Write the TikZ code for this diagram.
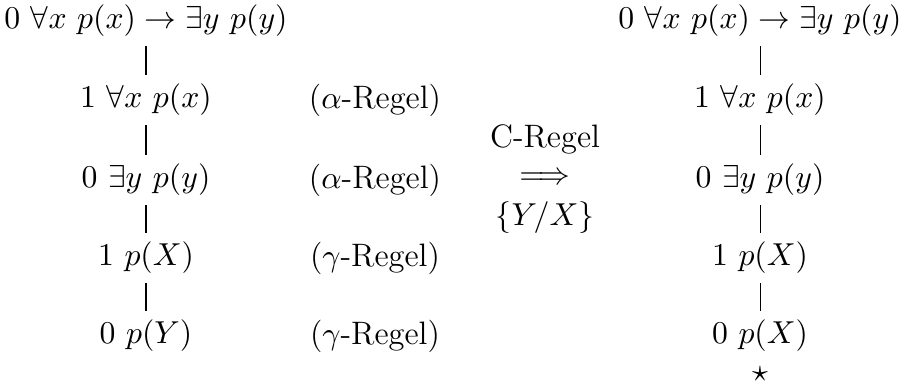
\documentclass[tikz,border=0pt,11pt]{standalone}
\usepackage{amssymb}
\begin{document}
\begin{tikzpicture}[x=0.01213cm, y=-0.01213cm, every node/.style={inner sep=3pt, font=\fontsize{11.2}{13}\selectfont}]
    \useasboundingbox (0,0) rectangle (907,387);
    % linker Tableau
    \node (l0) at (146,21)  {$0~\forall x~p(x) \to \exists y~p(y)$};
    \node (l1) at (146,100) {$1~\forall x~p(x)$};
    \node (l2) at (146,180) {$0~\exists y~p(y)$};
    \node (l3) at (146,258) {$1~p(X)$};
    \node (l4) at (146,336) {$0~p(Y)$};
    \draw[line width=0.35pt] (l0) -- (l1);
    \draw[line width=0.35pt] (l1) -- (l2);
    \draw[line width=0.35pt] (l2) -- (l3);
    \draw[line width=0.35pt] (l3) -- (l4);
    \node (r1) at (375,100) {($\alpha$-Regel)};
    \node (r2) at (375,180) {($\alpha$-Regel)};
    \node (r3) at (375,258) {($\gamma$-Regel)};
    \node (r4) at (375,336) {($\gamma$-Regel)};
    % Schritt
    \node[inner sep=0pt] (c) at (545,139) {C-Regel};
    \node[inner sep=0pt] (arr) at (545,179) {$\Longrightarrow$};
    \node[inner sep=0pt] (sub) at (545,218) {$\{Y/X\}$};
    % rechter Tableau
    \node (k0) at (760,21)  {$0~\forall x~p(x) \to \exists y~p(y)$};
    \node (k1) at (760,100) {$1~\forall x~p(x)$};
    \node (k2) at (760,180) {$0~\exists y~p(y)$};
    \node (k3) at (760,258) {$1~p(X)$};
    \node (k4) at (760,336) {$0~p(X)$};
    \draw[line width=0.35pt] (k0) -- (k1);
    \draw[line width=0.35pt] (k1) -- (k2);
    \draw[line width=0.35pt] (k2) -- (k3);
    \draw[line width=0.35pt] (k3) -- (k4);
    \node (zu) at (760,374) {$\star$};
\end{tikzpicture}
\end{document}
